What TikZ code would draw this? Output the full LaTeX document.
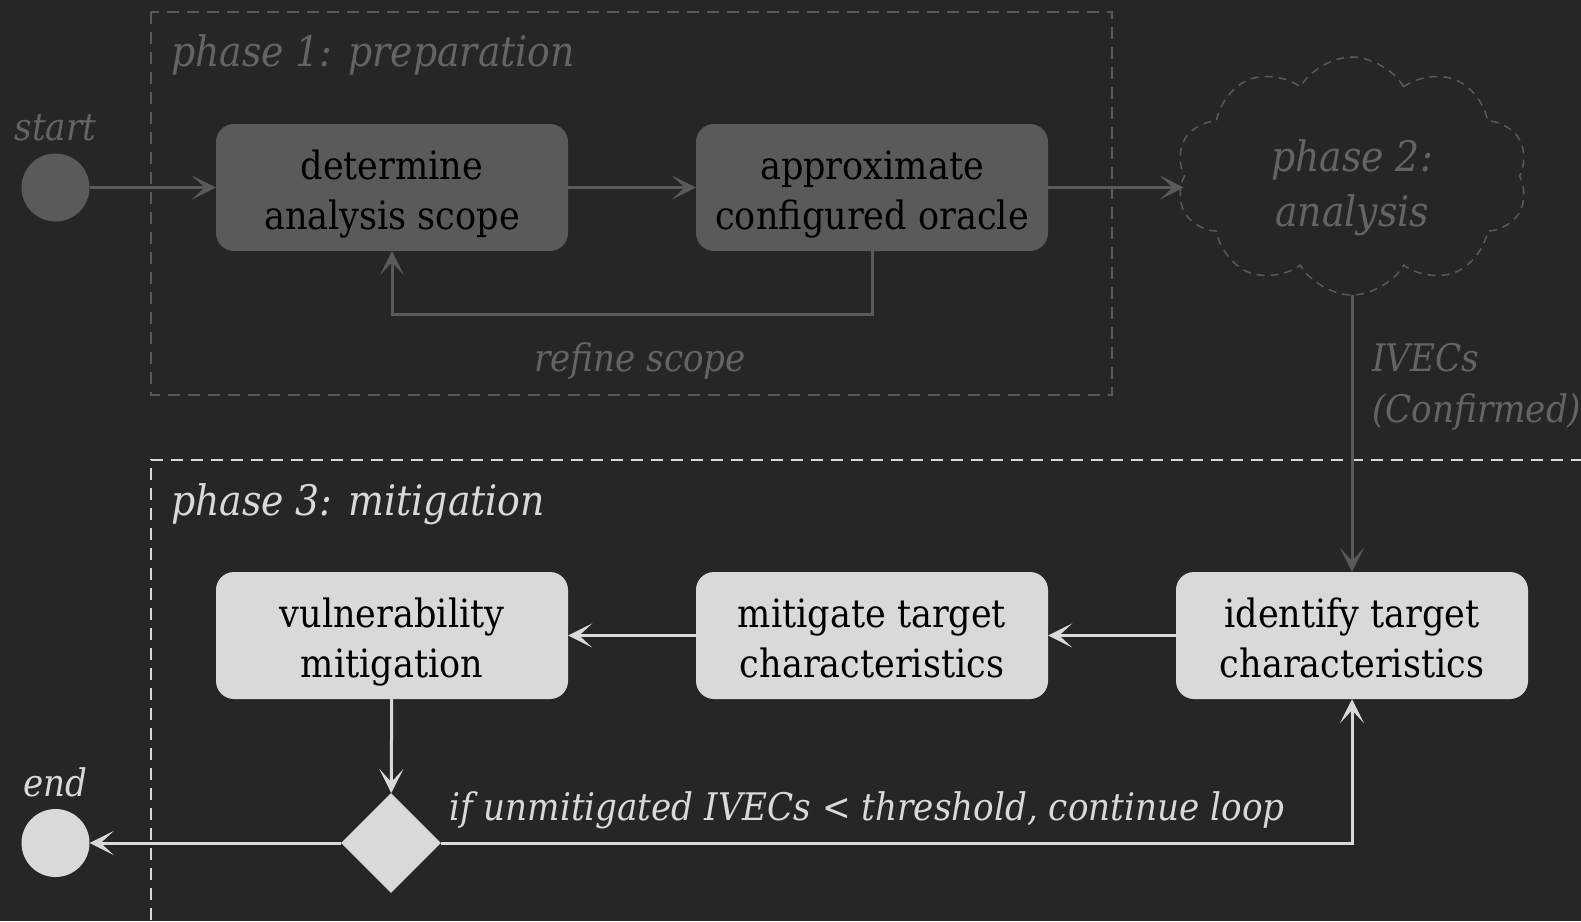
\documentclass[tikz,border=0pt]{standalone}
\usepackage{fontspec}
\setmainfont{DejaVu Serif Condensed}
\usetikzlibrary{arrows.meta,shapes.geometric,shapes.symbols}
\definecolor{bg}{HTML}{262626}
\definecolor{dim}{HTML}{5A5A5A}
\definecolor{dimtext}{HTML}{646464}
\definecolor{lite}{HTML}{D9D9D9}
\tikzset{
  boxtext/.style={font=\fontsize{39}{50}\selectfont, text=black, align=center, text height=86pt, text depth=3pt},
  labeltext/.style={font=\fontsize{38}{51}\selectfont\itshape, inner sep=0pt},
  phasetext/.style={font=\fontsize{42}{51}\selectfont\itshape, inner sep=0pt},
  actbox/.style={boxtext, rounded corners=18pt, minimum width=352pt, minimum height=127pt, inner sep=0pt},
  dimbox/.style={actbox, fill=dim},
  litebox/.style={actbox, fill=lite},
  terminal/.style={circle, minimum size=68pt, inner sep=0pt},
  flowhead/.tip={Stealth[length=24pt,width=24pt,inset=13pt]},
  dimflow/.style={draw=dim, line width=3pt, -flowhead},
  liteflow/.style={draw=lite, line width=3pt, -flowhead},
}
\begin{document}
\begin{tikzpicture}[x=1pt,y=-1pt]
\fill[bg] (0,0) rectangle (1581,921);
\useasboundingbox (0,0) rectangle (1581,921);

% phase 1 frame
\draw[dim, line width=2pt, dash pattern=on 12pt off 8pt] (151,12) rectangle (1112,395);
\node[phasetext, text=dimtext, anchor=west] (p1lbl) at (171,55) {phase 1: preparation};

% phase 3 frame (open towards the right and bottom edges)
\begin{scope}
\clip (0,0) rectangle (1581,921);
\draw[lite, line width=2pt, dash pattern=on 12pt off 8pt] (151,940) -- (151,460) -- (1600,460);
\end{scope}
\node[phasetext, text=lite, anchor=west] (p3lbl) at (171,504) {phase 3: mitigation};

% phase 1 nodes
\node[terminal, fill=dim] (start) at (55.5,187.5) {};
\node[labeltext, text=dimtext] (startlbl) at (55.5,128) {start};
\node[dimbox] (scope) at (392,187.5) {determine\\analysis scope};
\node[dimbox] (oracle) at (872,187.5) {approximate\\configured oracle};

% phase 2 cloud
\node[cloud, cloud puffs=10, cloud puff arc=120, aspect=1.5, draw=dim, line width=1.5pt,
      dash pattern=on 8pt off 6pt, minimum width=352pt, minimum height=238pt, inner sep=0pt,
      font=\fontsize{42}{55}\selectfont\itshape, text=dimtext, align=center,
      text height=102pt, text depth=1pt] (analysis) at (1352,176) {phase 2:\\analysis};
\coordinate (cloudfoot) at (1352,295);

% phase 3 nodes
\node[litebox] (identify) at (1352,635.5) {identify target\\characteristics};
\node[litebox] (mitigate) at (872,635.5) {mitigate target\\characteristics};
\node[litebox] (vuln) at (392,635.5) {vulnerability\\mitigation};
\node[diamond, fill=lite, minimum width=100pt, minimum height=100pt, inner sep=0pt] (check) at (391,843) {};
\node[terminal, fill=lite] (end) at (55.5,843) {};
\node[labeltext, text=lite] (endlbl) at (55.5,782) {end};

% phase 1 flow
\draw[dimflow] (start) -- (scope);
\draw[dimflow] (scope) -- (oracle);
\draw[dimflow] (oracle.east) -- (oracle.east -| analysis.west);
\draw[dimflow] (oracle.south) -- ++(0,63) -| (scope.south);
\node[labeltext, text=dimtext] (refine) at (640,361) {refine scope};

% phase 2 to phase 3
\draw[dimflow] (cloudfoot) -- (identify.north);
\node[labeltext, text=dimtext, anchor=west, align=left] (ivecs) at (1372,387) {IVECs\\(Confirmed)};

% phase 3 flow
\draw[liteflow] (identify) -- (mitigate);
\draw[liteflow] (mitigate) -- (vuln);
\draw[liteflow] (vuln) -- (check);
\draw[liteflow] (check) -- (end);
\draw[liteflow] (check.east) -| (identify.south);
\node[labeltext, text=lite, anchor=west] (looplbl) at (449,810) {if unmitigated IVECs < threshold, continue loop};
\end{tikzpicture}
\end{document}
